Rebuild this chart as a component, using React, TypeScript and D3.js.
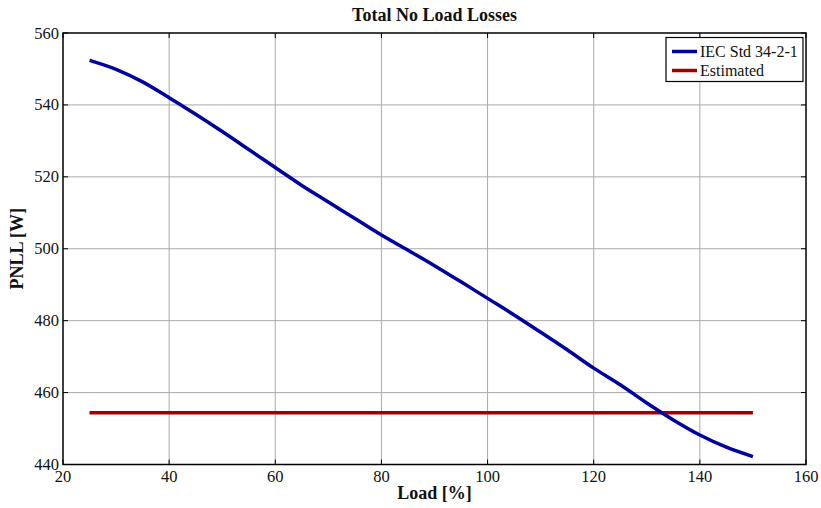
import React from "react";
import * as d3 from "d3";

const loadPct = [25, 30, 35, 40, 45, 50, 55, 60, 65, 70, 75, 80, 85, 90, 95, 100, 105, 110, 115, 120, 125, 130, 135, 140, 145, 150];
const iecValues = [552.4, 549.9, 546.4, 542.0, 537.4, 532.6, 527.6, 522.6, 517.6, 513.0, 508.4, 503.8, 499.6, 495.3, 490.8, 486.2, 481.6, 476.8, 471.9, 466.8, 462.2, 457.1, 452.4, 448.2, 444.8, 442.2];
const estimatedLoad = [25, 150];
const estimatedValues = [454.4, 454.4];
const xTicks = [20, 40, 60, 80, 100, 120, 140, 160];
const yTicks = [440, 460, 480, 500, 520, 540, 560];
const seriesNames = ["IEC Std 34-2-1", "Estimated"];
const seriesColors = ["#0000a0", "#a00000"];

const W = 821, H = 508;
const M = { left: 63, right: 806, top: 33, bottom: 464.5 };
const FONT = "'Liberation Serif', 'DejaVu Serif', serif";

export default function App() {
  const x = d3.scaleLinear().domain([20, 160]).range([M.left, M.right]);
  const y = d3.scaleLinear().domain([440, 560]).range([M.bottom, M.top]);
  const line = d3.line<[number, number]>().x((d) => x(d[0])).y((d) => y(d[1])).curve(d3.curveMonotoneX);
  const iec: [number, number][] = loadPct.map((v, i) => [v, iecValues[i]]);
  const est: [number, number][] = estimatedLoad.map((v, i) => [v, estimatedValues[i]]);
  const tick = 5;
  return (
    <svg width={W} height={H} style={{ position: "absolute", left: 0, top: 0, background: "#fff" }} fontFamily={FONT}>
      <rect x={0} y={0} width={W} height={H} fill="#fff" />
      {/* grid */}
      {xTicks.slice(1, -1).map((t) => (
        <line key={"gx" + t} x1={x(t)} x2={x(t)} y1={M.top} y2={M.bottom} stroke="#aaaaaa" strokeWidth={1} />
      ))}
      {yTicks.slice(1, -1).map((t) => (
        <line key={"gy" + t} x1={M.left} x2={M.right} y1={y(t)} y2={y(t)} stroke="#aaaaaa" strokeWidth={1} />
      ))}
      {/* ticks */}
      {xTicks.map((t) => (
        <g key={"tx" + t}>
          <line x1={x(t)} x2={x(t)} y1={M.bottom} y2={M.bottom - tick} stroke="#000" />
          <line x1={x(t)} x2={x(t)} y1={M.top} y2={M.top + tick} stroke="#000" />
          <text x={x(t)} y={482} textAnchor="middle" fontSize={16.5} fill="#111">{t}</text>
        </g>
      ))}
      {yTicks.map((t) => (
        <g key={"ty" + t}>
          <line x1={M.left} x2={M.left + tick} y1={y(t)} y2={y(t)} stroke="#000" />
          <line x1={M.right} x2={M.right - tick} y1={y(t)} y2={y(t)} stroke="#000" />
          <text x={59} y={y(t) + 5.5} textAnchor="end" fontSize={16.5} fill="#111">{t}</text>
        </g>
      ))}
      {/* series */}
      <path d={line(est) || ""} fill="none" stroke={seriesColors[1]} strokeWidth={3.5} />
      <path d={line(iec) || ""} fill="none" stroke={seriesColors[0]} strokeWidth={3.5} strokeLinejoin="round" />
      {/* frame */}
      <rect x={M.left} y={M.top} width={M.right - M.left} height={M.bottom - M.top} fill="none" stroke="#000" strokeWidth={1.5} />
      {/* legend */}
      <g>
        <rect x={666} y={37.5} width={137} height={44} fill="#fff" stroke="#000" strokeWidth={1.2} />
        {seriesNames.map((n, i) => (
          <g key={n}>
            <line x1={672} x2={697} y1={51.5 + i * 19} y2={51.5 + i * 19} stroke={seriesColors[i]} strokeWidth={3.5} />
            <text x={700} y={57 + i * 19} fontSize={16} fill="#111">{n}</text>
          </g>
        ))}
      </g>
      {/* titles */}
      <text x={434.5} y={20.5} textAnchor="middle" fontSize={18} fontWeight="bold" fill="#111">Total No Load Losses</text>
      <text x={434.5} y={499} textAnchor="middle" fontSize={18} fontWeight="bold" fill="#111">Load [%]</text>
      <text transform={`translate(22.5, 248.7) rotate(-90)`} textAnchor="middle" fontSize={18} fontWeight="bold" fill="#111">PNLL [W]</text>
    </svg>
  );
}
